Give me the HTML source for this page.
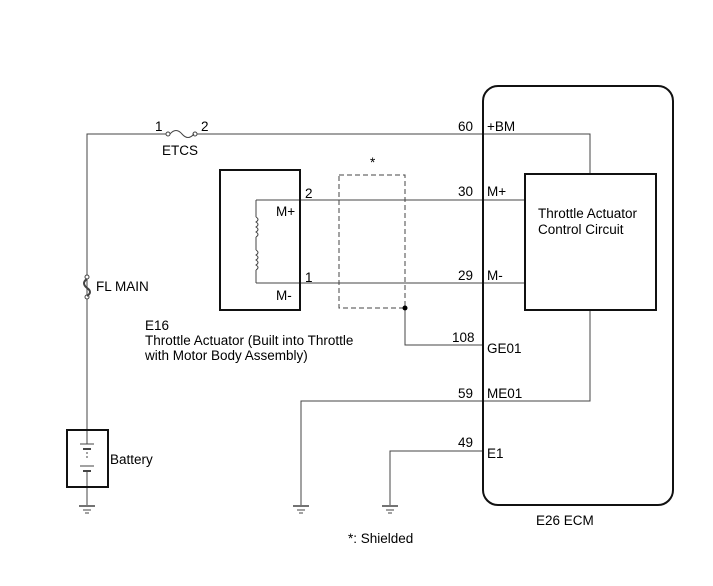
<!DOCTYPE html>
<html><head><style>
body{margin:0;background:#fff}
svg text{font-family:"Liberation Sans",Arial,sans-serif;font-size:13.5px;fill:#000}
</style></head><body>
<svg width="713" height="581" viewBox="0 0 713 581" xmlns="http://www.w3.org/2000/svg">
<g fill="none" stroke="#444" stroke-width="1">
<polyline points="87,430 87,134 166,134"/>
<polyline points="197,134 590,134 590,174"/>
<circle cx="168" cy="134" r="2"/><circle cx="195" cy="134" r="2"/>
<path d="M170,134 q6,-7 12,0 q6,7 12,0"/>
<circle cx="87" cy="277" r="2" fill="#fff"/><circle cx="87" cy="297" r="2" fill="#fff"/>
<path d="M87,279 q-6,4 0,9 q6,4 0,8" stroke-width="2"/>
<polyline points="256,200 525,200"/>
<polyline points="256,283 525,283"/>
<polyline points="256,200 256,217"/><polyline points="256,237 256,250"/><polyline points="256,270 256,283"/>
<path d="M256,217 q4,2.5 0,5 q4,2.5 0,5 q4,2.5 0,5 q4,2.5 0,5"/>
<path d="M256,250 q4,2.5 0,5 q4,2.5 0,5 q4,2.5 0,5 q4,2.5 0,5"/>
<rect x="339" y="175" width="66" height="133" stroke-dasharray="5,3"/>
<polyline points="405,308 405,345 483,345"/>
<polyline points="301,505 301,401 590,401 590,310"/>
<polyline points="390,505 390,451 483,451"/>
<polyline points="87,487 87,505"/>
<line x1="87" y1="430" x2="87" y2="444"/>
<line x1="80" y1="444" x2="94" y2="444"/><line x1="83" y1="449" x2="91" y2="449" stroke-width="2"/>
<line x1="87" y1="452" x2="87" y2="458" stroke-dasharray="2,2"/>
<line x1="80" y1="466" x2="94" y2="466"/><line x1="83" y1="471" x2="91" y2="471" stroke-width="2"/>
<line x1="87" y1="471" x2="87" y2="487"/>
<line x1="79" y1="506" x2="95" y2="506" stroke-width="1.5"/><line x1="83" y1="510" x2="91" y2="510"/><line x1="85" y1="513" x2="89" y2="513"/>
<line x1="293" y1="506" x2="309" y2="506" stroke-width="1.5"/><line x1="297" y1="510" x2="305" y2="510"/><line x1="299" y1="513" x2="303" y2="513"/>
<line x1="382" y1="506" x2="398" y2="506" stroke-width="1.5"/><line x1="386" y1="510" x2="394" y2="510"/><line x1="388" y1="513" x2="392" y2="513"/>
</g>
<g fill="none" stroke="#111" stroke-width="2">
<rect x="67" y="430" width="41" height="57"/>
<rect x="220" y="170" width="80" height="140"/>
<rect x="525" y="174" width="131" height="136"/>
<rect x="483" y="86" width="190" height="419" rx="15"/>
</g>
<circle cx="405" cy="308" r="2.5" fill="#000"/>
<text x="155" y="131">1</text><text x="201" y="131">2</text>
<text x="162" y="155">ETCS</text>
<text x="96" y="291">FL MAIN</text>
<text x="305" y="198">2</text><text x="305" y="282">1</text>
<text x="276" y="216">M+</text><text x="276" y="300">M-</text>
<text x="370" y="167">*</text>
<text x="145" y="330">E16</text>
<text x="145" y="345">Throttle Actuator (Built into Throttle</text>
<text x="145" y="360">with Motor Body Assembly)</text>
<text x="110" y="464">Battery</text>
<text x="458" y="131">60</text><text x="487" y="131">+BM</text>
<text x="458" y="196">30</text><text x="487" y="196">M+</text>
<text x="458" y="280">29</text><text x="487" y="280">M-</text>
<text x="452" y="342">108</text><text x="487" y="353">GE01</text>
<text x="458" y="398">59</text><text x="487" y="398">ME01</text>
<text x="458" y="447">49</text><text x="487" y="458">E1</text>
<text x="538" y="218">Throttle Actuator</text>
<text x="538" y="234">Control Circuit</text>
<text x="536" y="525">E26  ECM</text>
<text x="348" y="543">*: Shielded</text>
</svg>
</body></html>
